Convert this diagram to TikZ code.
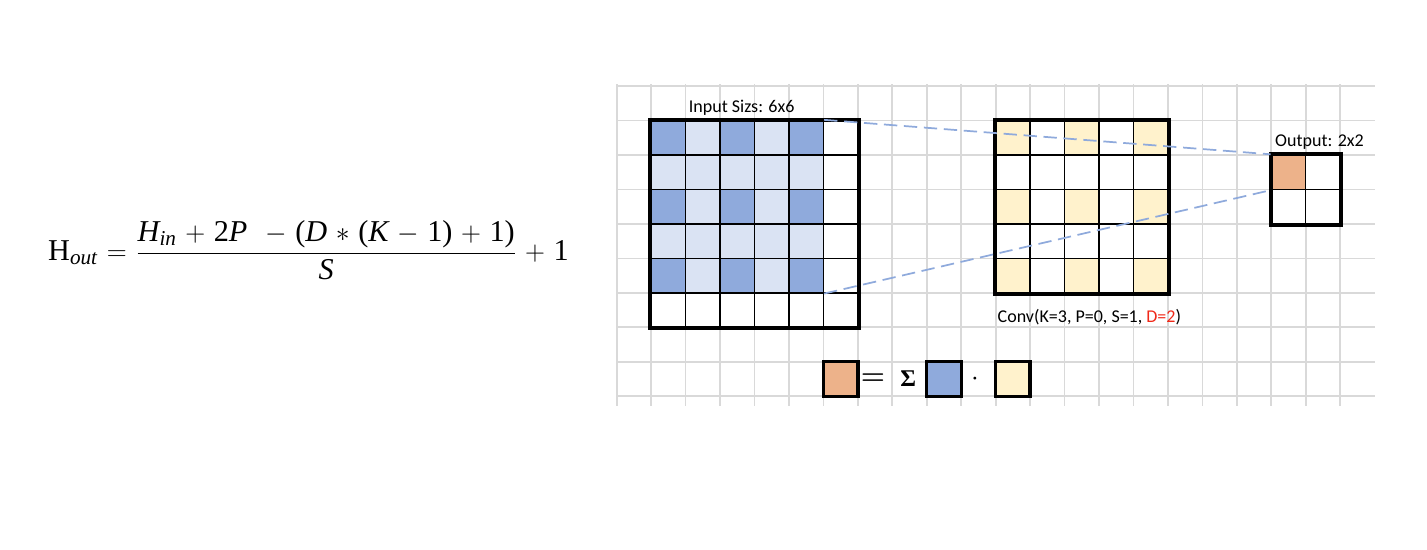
\documentclass[tikz,border=0pt]{standalone}
\usepackage{amsmath}
\usepackage{fontspec}
\setmainfont{Carlito}
\newfontfamily\tms{Liberation Serif}
\usepackage{tikz}
\usetikzlibrary{positioning,calc,fit}
\definecolor{cDil}{HTML}{8FAADC}
\definecolor{cDilF}{HTML}{DAE3F3}
\definecolor{cKer}{HTML}{FFF2CC}
\definecolor{cOut}{HTML}{EDB28A}
\definecolor{cGrid}{HTML}{D9D9D9}
\definecolor{cRed}{HTML}{F02818}
\newcommand{\cs}{25.84pt}
\newcommand{\mi}[1]{\text{\tms\itshape #1}}
\newcommand{\mr}[1]{\text{\tms #1}}
\tikzset{
  sheet/.style  ={draw=cGrid, line width=1.3pt},
  cell/.style   ={draw=black, line width=1.1pt, minimum size=\cs, inner sep=0pt},
  frame/.style  ={draw=black, line width=3pt, inner sep=0pt},
  zoomline/.style={draw=cDil, line width=1.3pt, dash pattern=on 10pt off 5pt},
  lbl/.style    ={font=\fontsize{13.5}{16}\selectfont, text=black, inner sep=0pt},
  lgbox/.style  ={draw=black, line width=2.5pt, minimum size=\cs, inner sep=0pt},
  lgsym/.style  ={font=\fontsize{21}{24}\selectfont, inner sep=0pt},
  formula/.style={font=\fontsize{22.7}{26}\selectfont, inner sep=0pt},
}

\begin{document}
\begin{tikzpicture}[x=\cs, y=-\cs]
  \useasboundingbox (-17.90,-2.50) rectangle (23.52,13.44);

  % ===== background sheet =====
  \foreach \k in {0,...,21}
    \draw[sheet] (\k,-0.06) -- (\k,9.27);
  \foreach \j in {0,...,9}
    \draw[sheet] (0,\j) -- (22,\j);

  % ===== formula =====
  \node[formula, anchor=west] (hout) at (-16.51,4.755)
    {\medmuskip=5.6mu \thickmuskip=6mu
     $\mr{H}_{\mi{out}} = \dfrac{\mi{H}_{\mi{in}} + \mr{2}\mi{P}\; - \mr{(}\mi{D} * \mr{(}\mi{K} - \mr{1}\mr{)} + \mr{1}\mr{)}}{\mi{S}} + \mr{1}$};

  % ---- input 6x6 (dilated taps dark) ----
  \foreach \r in {0,...,5}{
    \foreach \c in {0,...,5}{
      \pgfmathtruncatemacro{\tap}{(\r<5)*(\c<5)*(1+(mod(\r,2)==0)*(mod(\c,2)==0))}
      \ifcase\tap \def\fc{white}\or \def\fc{cDilF}\or \def\fc{cDil}\fi
      \node[cell, fill=\fc] (in-\r-\c) at (1.5+\c,1.5+\r) {};
    }
  }
  \node[frame, fit=(in-0-0)(in-5-5)] (inp) {};
  \node[lbl, anchor=base] (inlbl) at ($(inp.north)+(-0.37,-0.16)$) {Input Sizs: 6x6};

  % ---- dilated kernel 5x5 ----
  \foreach \r in {0,...,4}{
    \foreach \c in {0,...,4}{
      \pgfmathtruncatemacro{\tap}{(mod(\r,2)==0)*(mod(\c,2)==0)}
      \ifcase\tap \def\fc{white}\or \def\fc{cKer}\fi
      \node[cell, fill=\fc] (k-\r-\c) at (11.5+\c,1.5+\r) {};
    }
  }
  \node[frame, fit=(k-0-0)(k-4-4)] (kern) {};
  \node[lbl, anchor=base] (klbl) at ($(kern.south)+(0.22,0.79)$)
    {Conv(K=3, P=0, S=1, \textcolor{cRed}{D=2})};

  % ---- output 2x2 ----
  \foreach \r in {0,1}{
    \foreach \c in {0,1}{
      \node[cell, fill=white] (out-\r-\c) at (19.5+\c,2.5+\r) {};
    }
  }
  \node[cell, fill=cOut] at (out-0-0) {};
  \node[frame, fit=(out-0-0)(out-1-1)] (outp) {};
  \node[lbl, anchor=base] (olbl) at ($(outp.north)+(0.4,-0.16)$) {Output: 2x2};

  % ---- receptive field ----
  \draw[zoomline] (in-0-4.north east) -- (out-0-0.north west);
  \draw[zoomline] (in-4-4.south east) -- (out-0-0.south west);

  % ===== legend =====
  \node[lgbox, fill=cOut] (lgo) at (6.5,8.5) {};
  \node[lgsym] (lgeq) at (7.44,8.5) {$\boldsymbol{=}$};
  \node[lgsym] (lgsum) at (8.46,8.5) {\tms\bfseries\fontsize{18}{20}\selectfont Σ};
  \node[lgbox, fill=cDil] (lgi) at (9.5,8.5) {};
  \node[lgsym] (lgdot) at (10.4,8.5) {$\cdot$};
  \node[lgbox, fill=cKer] (lgk) at (11.5,8.5) {};

\end{tikzpicture}
\end{document}
